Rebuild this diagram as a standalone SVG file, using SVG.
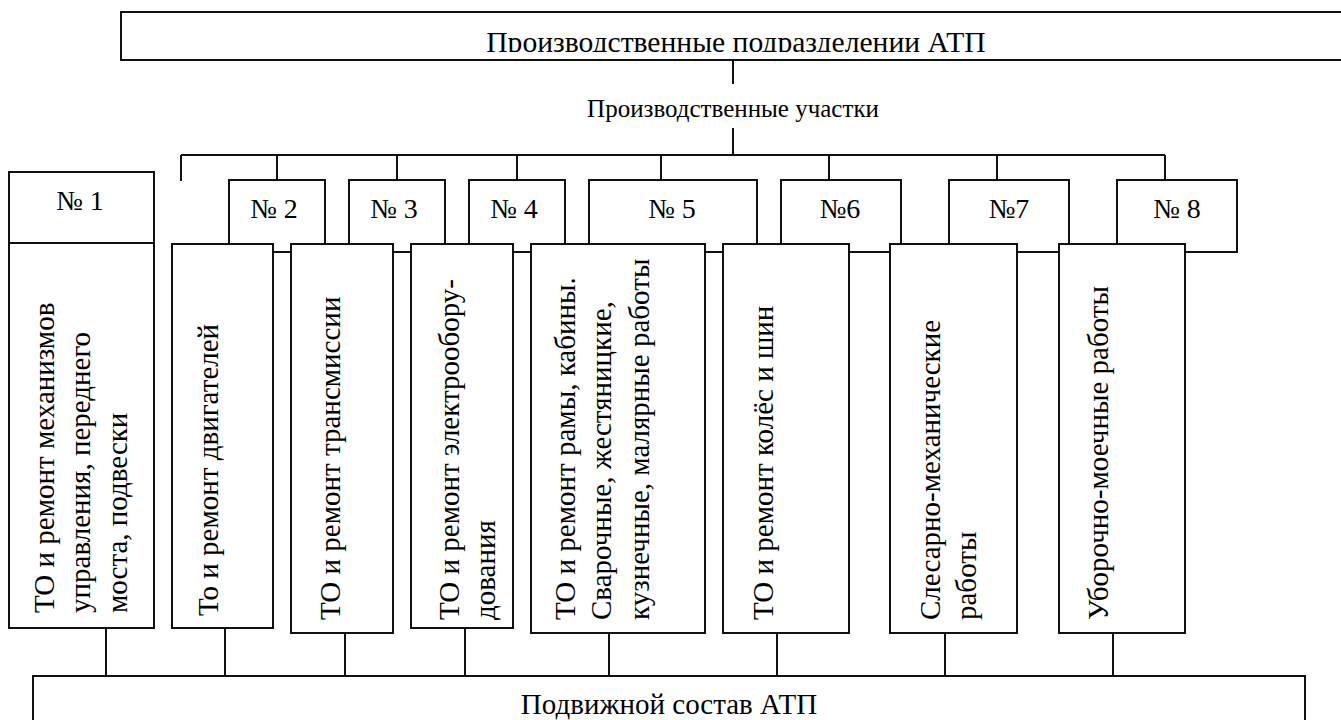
<svg xmlns="http://www.w3.org/2000/svg" width="1341" height="720" viewBox="0 0 1341 720">
  <style>
    .box { fill: #fff; stroke: #111; stroke-width: 2; }
    .ln { fill: none; stroke: #111; stroke-width: 2; }
    .t { font-family: "Liberation Serif", "Times New Roman", serif; fill: #000; }
    .h { font-size: 29px; text-anchor: middle; }
    .n { font-size: 28px; text-anchor: middle; }
    .v { font-size: 29px; }
  </style>
  <defs>
    <clipPath id="headClip">
      <rect x="121" y="12" width="1230" height="40"/>
    </clipPath>
  </defs>
  <rect width="1341" height="720" fill="#fff"/>

  <!-- connectors -->
  <g id="connectors" class="ln">
    <line x1="733" y1="60" x2="733" y2="84"/>
    <line x1="733" y1="128" x2="733" y2="155"/>
    <line x1="181" y1="155" x2="1165" y2="155"/>
    <line x1="181" y1="155" x2="181" y2="181"/>
    <line x1="277" y1="155" x2="277" y2="180"/>
    <line x1="397" y1="155" x2="397" y2="180"/>
    <line x1="517" y1="155" x2="517" y2="180"/>
    <line x1="661" y1="155" x2="661" y2="180"/>
    <line x1="829" y1="155" x2="829" y2="180"/>
    <line x1="997" y1="155" x2="997" y2="180"/>
    <line x1="1165" y1="155" x2="1165" y2="180"/>
    <line x1="106" y1="628" x2="106" y2="676"/>
    <line x1="225" y1="628" x2="225" y2="676"/>
    <line x1="345" y1="633" x2="345" y2="676"/>
    <line x1="465" y1="628" x2="465" y2="676"/>
    <line x1="609" y1="633" x2="609" y2="676"/>
    <line x1="777" y1="633" x2="777" y2="676"/>
    <line x1="945" y1="633" x2="945" y2="676"/>
    <line x1="1113" y1="633" x2="1113" y2="676"/>
  </g>

  <!-- top level -->
  <g id="atp-units">
    <rect class="box" x="121" y="12" width="1240" height="48"/>
    <text class="t h" x="736" y="52" style="font-size:29.6px" clip-path="url(#headClip)">Производственные подразделении АТП</text>
  </g>
  <g id="sections-label">
    <text class="t h" x="733" y="117" style="font-size:25px">Производственные участки</text>
  </g>

  <!-- section number boxes -->
  <g id="num-1"><rect class="box" x="9" y="172" width="145" height="71"/><text class="t n" x="80" y="210">№ 1</text></g>
  <g id="num-2"><rect class="box" x="229" y="180" width="96" height="72"/><text class="t n" x="274" y="218">№ 2</text></g>
  <g id="num-3"><rect class="box" x="349" y="180" width="96" height="72"/><text class="t n" x="394" y="218">№ 3</text></g>
  <g id="num-4"><rect class="box" x="469" y="180" width="96" height="72"/><text class="t n" x="514" y="218">№ 4</text></g>
  <g id="num-5"><rect class="box" x="589" y="180" width="168" height="72"/><text class="t n" x="672" y="218">№ 5</text></g>
  <g id="num-6"><rect class="box" x="781" y="180" width="120" height="72"/><text class="t n" x="840" y="218">№6</text></g>
  <g id="num-7"><rect class="box" x="949" y="180" width="120" height="72"/><text class="t n" x="1009" y="218">№7</text></g>
  <g id="num-8"><rect class="box" x="1117" y="180" width="120" height="72"/><text class="t n" x="1177" y="218">№ 8</text></g>

  <!-- work description boxes -->
  <g id="work-1">
    <rect class="box" x="9" y="243" width="145" height="385"/>
    <text class="t v" transform="translate(54,613) rotate(-90)"><tspan x="0" y="0">ТО и ремонт механизмов</tspan><tspan x="0" y="36">управления, переднего</tspan><tspan x="0" y="73">моста, подвески</tspan></text>
  </g>
  <g id="work-2">
    <rect class="box" x="172" y="244" width="101" height="384"/>
    <text class="t v" transform="translate(218,616) rotate(-90)">То и ремонт двигателей</text>
  </g>
  <g id="work-3">
    <rect class="box" x="291" y="244" width="102" height="389"/>
    <text class="t v" transform="translate(340,620) rotate(-90)">ТО и ремонт трансмиссии</text>
  </g>
  <g id="work-4">
    <rect class="box" x="411" y="244" width="102" height="384"/>
    <text class="t v" transform="translate(459,620) rotate(-90)"><tspan x="0" y="0">ТО и ремонт электрообору-</tspan><tspan x="0" y="36">дования</tspan></text>
  </g>
  <g id="work-5">
    <rect class="box" x="531" y="244" width="174" height="389"/>
    <text class="t v" transform="translate(575,620) rotate(-90)"><tspan x="0" y="0">ТО и ремонт рамы, кабины.</tspan><tspan x="0" y="36">Сварочные, жестяницкие,</tspan><tspan x="0" y="74">кузнечные, малярные работы</tspan></text>
  </g>
  <g id="work-6">
    <rect class="box" x="723" y="244" width="126" height="389"/>
    <text class="t v" transform="translate(773,620) rotate(-90)">ТО и ремонт колёс и шин</text>
  </g>
  <g id="work-7">
    <rect class="box" x="890" y="244" width="127" height="389"/>
    <text class="t v" transform="translate(940,620) rotate(-90)"><tspan x="0" y="0">Слесарно-механические</tspan><tspan x="0" y="36">работы</tspan></text>
  </g>
  <g id="work-8">
    <rect class="box" x="1059" y="244" width="126" height="389"/>
    <text class="t v" transform="translate(1108,620) rotate(-90)">Уборочно-моечные работы</text>
  </g>

  <!-- rolling stock -->
  <g id="rolling-stock">
    <rect class="box" x="33" y="676" width="1272" height="60"/>
    <text class="t h" x="669" y="714">Подвижной состав АТП</text>
  </g>
</svg>
